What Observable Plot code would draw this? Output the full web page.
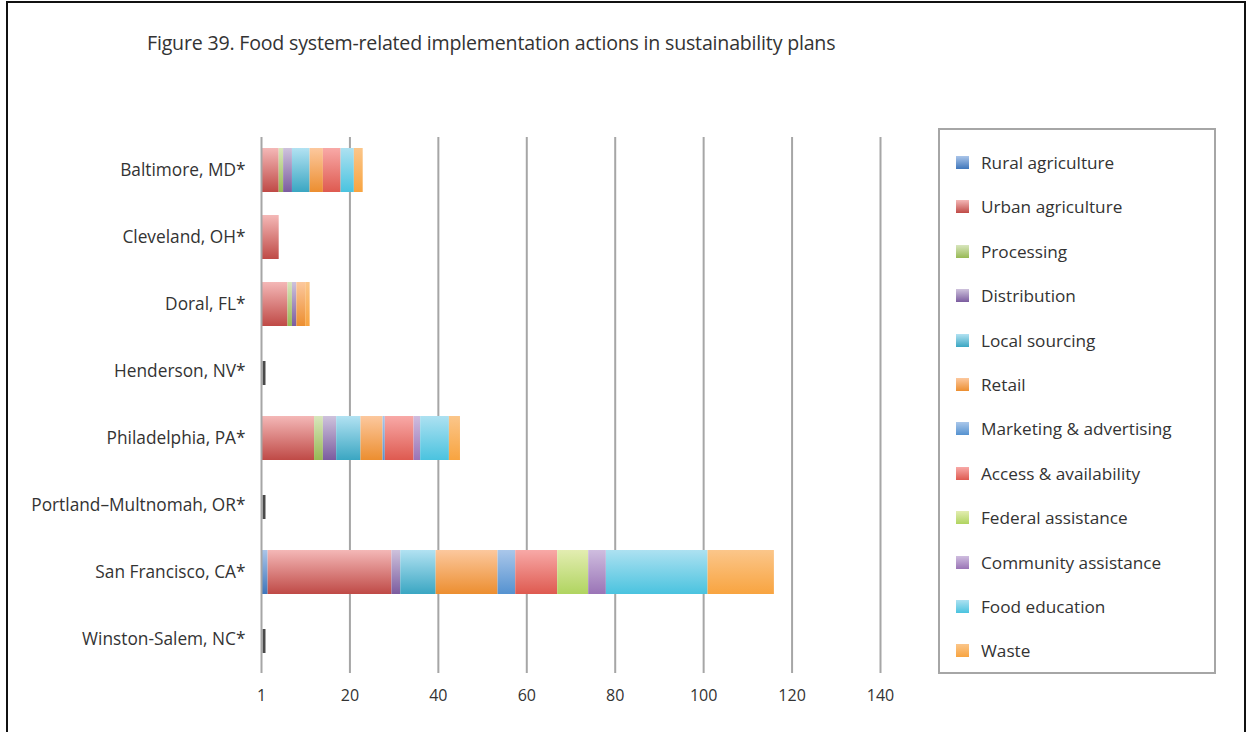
<!DOCTYPE html>
<html>
<head>
<meta charset="utf-8">
<script src="https://cdn.jsdelivr.net/npm/d3@7"></script>
<script src="https://cdn.jsdelivr.net/npm/@observablehq/plot@0.6"></script>
<style>
  html, body { margin: 0; padding: 0; background: #fff; }
  body { width: 1250px; height: 732px; position: relative; overflow: hidden; font-family: "Open Sans", sans-serif; }
  #frame { position: absolute; left: 6px; top: 1px; width: 1240px; height: 800px; border: 2px solid #111; box-sizing: border-box; }
  #title { position: absolute; left: 147px; top: 29px; font-size: 19.6px; color: #333; white-space: nowrap; letter-spacing: -0.2px; }
  #chart { position: absolute; left: 0; top: 0; }
  #legend { position: absolute; left: 938px; top: 128px; width: 278px; height: 546px; border: 2px solid #a6a6a6; box-sizing: border-box; }
  .item { position: absolute; left: 16px; display: flex; align-items: center; font-size: 17.2px; color: #333; white-space: nowrap; }
  .item svg { margin-right: 12px; }
</style>
</head>
<body>
<svg width="0" height="0" style="position:absolute" id="defs-holder"><defs id="grad-defs"></defs></svg>
<div id="frame"></div>
<div id="title">Figure 39. Food system-related implementation actions in sustainability plans</div>
<div id="chart"></div>
<div id="legend"></div>
<script>
// ---- data ----
const cities = ["Baltimore, MD*", "Cleveland, OH*", "Doral, FL*", "Henderson, NV*", "Philadelphia, PA*", "Portland–Multnomah, OR*", "San Francisco, CA*", "Winston-Salem, NC*"];
const categories = ["Rural agriculture", "Urban agriculture", "Processing", "Distribution", "Local sourcing", "Retail", "Marketing & advertising", "Access & availability", "Federal assistance", "Community assistance", "Food education", "Waste"];
const ruralAgriculture     = [0, 0, 0, 0, 0,   0, 1.5, 0];
const urbanAgriculture     = [4, 4, 6, 0, 12,  0, 28,  0];
const processing           = [1, 0, 1, 0, 2,   0, 0,   0];
const distribution         = [2, 0, 1, 0, 3,   0, 2,   0];
const localSourcing        = [4, 0, 0, 0, 5.5, 0, 8,   0];
const retail               = [3, 0, 2, 0, 5,   0, 14,  0];
const marketingAdvertising = [0, 0, 0, 0, 0.5, 0, 4,   0];
const accessAvailability   = [4, 0, 0, 0, 6.5, 0, 9.5, 0];
const federalAssistance    = [0, 0, 0, 0, 0,   0, 7,   0];
const communityAssistance  = [0, 0, 0, 0, 1.5, 0, 4,   0];
const foodEducation        = [3, 0, 0, 0, 6.5, 0, 23,  0];
const waste                = [2, 0, 1, 0, 2.5, 0, 15,  0];
const xTicks = [0, 20, 40, 60, 80, 100, 120, 140];
const xTickLabels = ["1", "20", "40", "60", "80", "100", "120", "140"];

const seriesValues = [ruralAgriculture, urbanAgriculture, processing, distribution, localSourcing, retail,
  marketingAdvertising, accessAvailability, federalAssistance, communityAssistance, foodEducation, waste];

// gradient colours (top, bottom) per category
const gradTop = ["#aac5e9", "#f4b8b7", "#d8e6bd", "#cec2dc", "#b2e2f2", "#fcc89e", "#aac7ea", "#f8a9a7", "#e3edb1", "#cfbddf", "#ade1f1", "#fbc68a"];
const gradBottom = ["#3f76bb", "#bf4a46", "#97b954", "#7b5c9f", "#3aa6c2", "#ec8e30", "#5592d0", "#de5a50", "#b0d460", "#9a74b6", "#4ac3df", "#f8a440"];

const defs = document.getElementById("grad-defs");
const ns = "http://www.w3.org/2000/svg";
const gradUrls = categories.map((c, i) => {
  const g = document.createElementNS(ns, "linearGradient");
  g.setAttribute("id", "g" + i);
  g.setAttribute("x1", "0"); g.setAttribute("y1", "0"); g.setAttribute("x2", "0"); g.setAttribute("y2", "1");
  [[0, gradTop[i]], [1, gradBottom[i]]].forEach(([o, col]) => {
    const s = document.createElementNS(ns, "stop");
    s.setAttribute("offset", o); s.setAttribute("stop-color", col);
    g.appendChild(s);
  });
  defs.appendChild(g);
  return `url(#g${i})`;
});

const rows = [];
cities.forEach((city, ci) => {
  categories.forEach((cat, k) => {
    const v = seriesValues[k][ci];
    if (v > 0) rows.push({city, category: cat, value: v});
  });
});
const totals = cities.map((city, ci) => ({city, total: d3.sum(seriesValues, s => s[ci])}));
const emptyCities = totals.filter(d => d.total === 0);

const plot = Plot.plot({
  width: 1250,
  height: 732,
  marginLeft: 261,
  marginRight: 370,
  marginTop: 137,
  marginBottom: 59,
  style: {fontFamily: "'Open Sans', sans-serif", color: "#333", background: "transparent"},
  x: {domain: [0, 140], axis: null, label: null},
  y: {domain: cities, paddingInner: 0.34, paddingOuter: 0.17, axis: null, label: null},
  color: {domain: categories, range: gradUrls},
  marks: [
    Plot.ruleX(xTicks.slice(1), {stroke: "#a6a6a6", strokeWidth: 2}),
    Plot.barX(rows, Plot.stackX({y: "city", x: "value", fill: "category", order: categories})),
    Plot.tickX(emptyCities, {x: 0, y: "city", dx: 2.5, stroke: "#4a4a4a", strokeWidth: 3, insetTop: 12, insetBottom: 8}),
    Plot.ruleX([0], {stroke: "#a6a6a6", strokeWidth: 2}),
    Plot.ruleY([0], {frameAnchor: "bottom", stroke: "#a6a6a6", strokeWidth: 2}),
    Plot.axisX(xTicks, {tickSize: 0, tickPadding: 16, fontSize: 16, fill: "#333", label: null,
      tickFormat: (d) => xTickLabels[xTicks.indexOf(d)]}),
    Plot.axisY({tickSize: 0, tickPadding: 16, fontSize: 17.3, fill: "#333", label: null})
  ]
});
document.getElementById("chart").appendChild(plot);

const legend = document.getElementById("legend");
categories.forEach((cat, i) => {
  const item = document.createElement("div");
  item.className = "item";
  item.style.top = (21 + i * 44.4) + "px";
  item.innerHTML = `<svg width="13" height="13"><rect width="13" height="13" fill="${gradUrls[i]}"></rect></svg><span>${cat.replace("&", "&amp;")}</span>`;
  legend.appendChild(item);
});
</script>
</body>
</html>
